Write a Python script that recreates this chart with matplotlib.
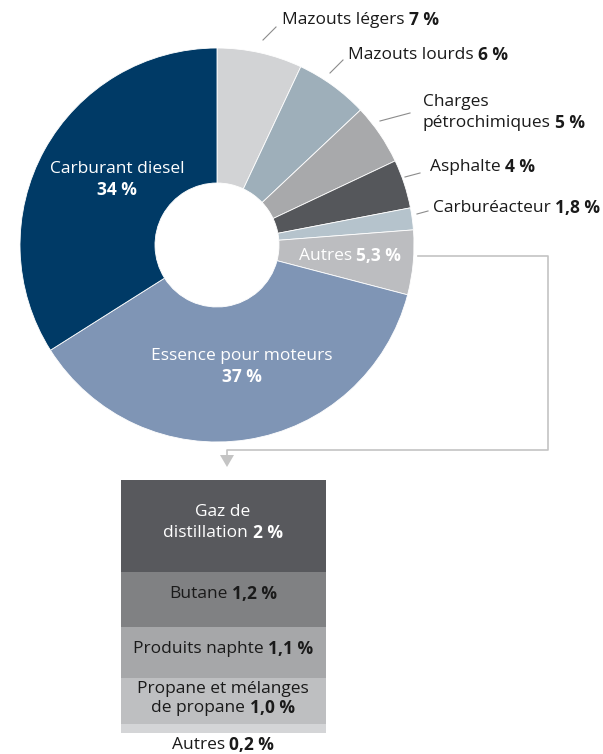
import matplotlib
matplotlib.use("Agg")
import matplotlib.pyplot as plt
from matplotlib.patches import Polygon

plt.rcParams['font.family'] = ['Open Sans', 'DejaVu Sans']

# répartition des produits raffinés (%)
produits = ['Mazouts légers', 'Mazouts lourds', 'Charges pétrochimiques', 'Asphalte',
            'Carburéacteur', 'Autres', 'Essence pour moteurs', 'Carburant diesel']
parts = [7, 6, 5, 4, 1.8, 5.3, 37, 34]
couleurs = ['#d2d3d5', '#9eafba', '#a8a9ab', '#55575b', '#b5c3cc', '#bcbdc0', '#7f95b5', '#003a66']

# détail de « Autres »
autres = ['Gaz de distillation', 'Butane', 'Produits naphte', 'Propane et mélanges de propane', 'Autres']
autres_parts = [2, 1.2, 1.1, 1.0, 0.2]
autres_couleurs = ['#58595d', '#808183', '#a6a7a9', '#bebfc1', '#d4d5d7']

W, H = 603, 754
FS = 12.5
fig = plt.figure(figsize=(W / 100, H / 100), dpi=100)

# barre empilée du détail (dessous)
bx = fig.add_axes([121 / W, 1 - 733 / H, 205 / W, 253 / H])
bas = 0
for nom, v, c in zip(autres, autres_parts, autres_couleurs):
    bx.bar(0, v, bottom=bas, width=1, color=c, edgecolor='none')
    bas += v
bx.set_xlim(-0.5, 0.5)
bx.set_ylim(sum(autres_parts), 0)
bx.axis('off')

ax = fig.add_axes([0, 0, 1, 1])
ax.patch.set_alpha(0)

# anneau
ax.pie(parts, colors=couleurs, startangle=270, counterclock=True,
       center=(217, 245), radius=197, frame=True,
       wedgeprops=dict(width=135, edgecolor='white', linewidth=0.6))
ax.set_xlim(0, W)
ax.set_ylim(H, 0)
ax.axis('off')

renderer = fig.canvas.get_renderer()


def largeur(s, weight):
    t = ax.text(0, 0, s, fontsize=FS, fontweight=weight)
    w = t.get_window_extent(renderer).width
    t.remove()
    return w


ESP = largeur('x x', 'normal') - largeur('xx', 'normal')


def rich(x, y, morceaux, ha='left', color='#1a1a1a'):
    ws = [largeur(s, wt) for s, wt in morceaux]
    total = sum(ws) + ESP * (len(morceaux) - 1)
    x0 = x if ha == 'left' else x - total / 2
    for (s, wt), w in zip(morceaux, ws):
        ax.text(x0, y, s, fontsize=FS, fontweight=wt, color=color, va='center', ha='left')
        x0 += w + ESP


# étiquettes extérieures et traits de rappel
gris = '#8c8c8c'
rich(282, 20, [('Mazouts légers', 'normal'), ('7 %', 'bold')])
ax.plot([263, 276], [40, 27], color=gris, lw=0.8)
rich(348, 55, [('Mazouts lourds', 'normal'), ('6 %', 'bold')])
ax.plot([330, 343], [73, 60], color=gris, lw=0.8)
rich(423, 102, [('Charges', 'normal')])
rich(423, 123, [('pétrochimiques', 'normal'), ('5 %', 'bold')])
ax.plot([380, 410], [121, 113], color=gris, lw=0.8)
rich(430, 167, [('Asphalte', 'normal'), ('4 %', 'bold')])
ax.plot([405, 420], [177, 173], color=gris, lw=0.8)
rich(433, 208, [('Carburéacteur', 'normal'), ('1,8 %', 'bold')])
ax.plot([417, 428], [214, 211], color=gris, lw=0.8)

# étiquettes dans l'anneau
rich(350, 256, [('Autres', 'normal'), ('5,3 %', 'bold')], ha='center', color='white')
rich(117, 169, [('Carburant diesel', 'normal')], ha='center', color='white')
rich(117, 190, [('34 %', 'bold')], ha='center', color='white')
rich(242, 356, [('Essence pour moteurs', 'normal')], ha='center', color='white')
rich(242, 377, [('37 %', 'bold')], ha='center', color='white')

# renvoi vers le détail
ligne = '#c4c4c4'
ax.plot([418, 548, 548, 227, 227], [256, 256, 450, 450, 456], color=ligne, lw=1.2)
ax.add_patch(Polygon([[220, 455], [234, 455], [227, 467]], closed=True, color=ligne, lw=0))

rich(223, 512, [('Gaz de', 'normal')], ha='center', color='white')
rich(223, 533, [('distillation', 'normal'), ('2 %', 'bold')], ha='center', color='white')
rich(223, 594, [('Butane', 'normal'), ('1,2 %', 'bold')], ha='center')
rich(223, 649, [('Produits naphte', 'normal'), ('1,1 %', 'bold')], ha='center')
rich(223, 689, [('Propane et mélanges', 'normal')], ha='center')
rich(223, 708, [('de propane', 'normal'), ('1,0 %', 'bold')], ha='center')
rich(223, 745, [('Autres', 'normal'), ('0,2 %', 'bold')], ha='center')

fig.savefig('out.png', dpi=100)
